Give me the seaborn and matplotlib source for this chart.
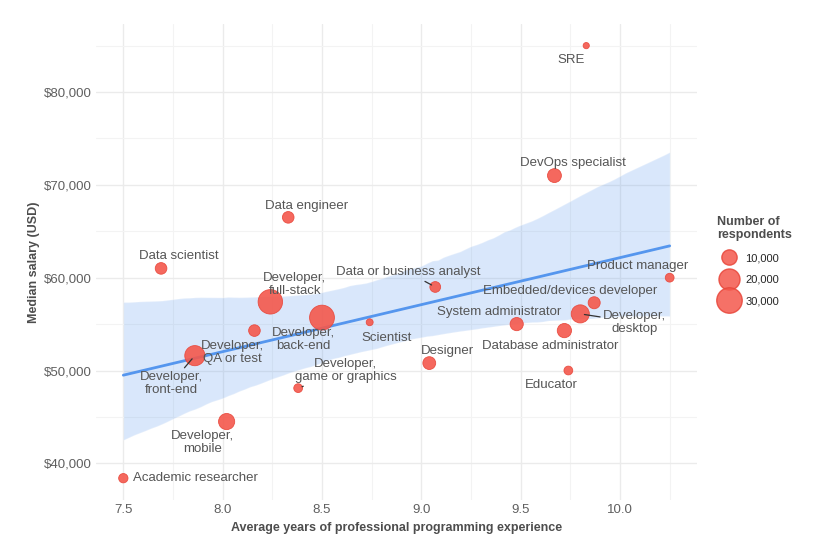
import seaborn as sns
import pandas as pd
import matplotlib.pyplot as plt
from matplotlib.lines import Line2D
from matplotlib.ticker import FuncFormatter, MultipleLocator

roles = ['SRE', 'DevOps specialist', 'Data engineer', 'Data scientist',
         'Developer,\nfull-stack', 'Developer,\nback-end', 'Developer,\nQA or test',
         'Developer,\nfront-end', 'Scientist', 'Data or business analyst',
         'System administrator', 'Database administrator', 'Developer,\ndesktop',
         'Embedded/devices developer', 'Product manager', 'Designer', 'Educator',
         'Developer,\ngame or graphics', 'Developer,\nmobile', 'Academic researcher']
years = [9.83, 9.67, 8.33, 7.69, 8.24, 8.50, 8.16, 7.86, 8.74, 9.07,
         9.48, 9.72, 9.80, 9.87, 10.25, 9.04, 9.74, 8.38, 8.02, 7.50]
salary = [85000, 71000, 66500, 61000, 57400, 55700, 54300, 51600, 55200, 59000,
          55000, 54300, 56100, 57300, 60000, 50800, 50000, 48100, 44500, 38400]
respondents = [2000, 10000, 7000, 7000, 31000, 32000, 7000, 21000, 2500, 6000,
               9000, 10500, 17000, 7500, 4000, 8500, 4000, 4000, 13500, 4500]

# where each label sits (data coords), and whether it gets a leader segment
label_pos = {
    'SRE': (9.755, 83400, False),
    'DevOps specialist': (9.765, 72350, False),
    'Data engineer': (8.423, 67700, False),
    'Data scientist': (7.78, 62330, False),
    'Developer,\nfull-stack': (8.363, 59300, False),
    'Developer,\nback-end': (8.408, 53350, False),
    'Developer,\nQA or test': (8.049, 51950, False),
    'Developer,\nfront-end': (7.74, 48600, True),
    'Scientist': (8.827, 53480, False),
    'Data or business analyst': (8.932, 60600, True),
    'System administrator': (9.39, 56290, False),
    'Database administrator': (9.65, 52620, False),
    'Developer,\ndesktop': (10.075, 55200, True),
    'Embedded/devices developer': (9.75, 58550, False),
    'Product manager': (10.09, 61250, False),
    'Designer': (9.13, 52080, False),
    'Educator': (9.656, 48420, False),
    'Developer,\ngame or graphics': (8.618, 50000, True),
    'Developer,\nmobile': (7.90, 42250, False),
}

df = pd.DataFrame({'role': roles, 'years': years, 'salary': salary, 'n': respondents})

sns.set_theme(style='whitegrid')
plt.rcParams['font.family'] = ['Liberation Sans', 'DejaVu Sans']

fig = plt.figure(figsize=(8.32, 5.48), dpi=100)
ax = fig.add_axes([96 / 832, 1 - 500 / 548, 601 / 832, 476 / 548])

point_red = '#f4584c'
line_blue = '#5596ee'

sns.regplot(data=df, x='years', y='salary', scatter=False, ci=95, truncate=True,
            color=line_blue, line_kws={'lw': 2}, ax=ax)
for c in ax.collections:
    c.set_alpha(0.22)

sns.scatterplot(data=df, x='years', y='salary', size='n', sizes=(0, 350),
                size_norm=(0, 35000), color=point_red, alpha=0.9,
                edgecolor='#e8463a', linewidth=0.6, legend=False, ax=ax, zorder=3)

label_color = '#555555'
for r, x, y in zip(roles, years, salary):
    if r == 'Academic researcher':
        ax.text(x + 0.05, y, r, ha='left', va='center', fontsize=9.5,
                color=label_color)
        continue
    lx, ly, seg = label_pos[r]
    if seg:
        ax.annotate(r, xy=(x, y), xytext=(lx, ly), ha='center', va='center',
                    fontsize=9.5, color=label_color, linespacing=1.1,
                    arrowprops=dict(arrowstyle='-', color='#333333', lw=0.9,
                                    shrinkA=0, shrinkB=3))
    else:
        ax.text(lx, ly, r, ha='center', va='center', fontsize=9.5,
                color=label_color, linespacing=1.1)

ax.set_xlim(7.3625, 10.3875)
ax.set_ylim(36050, 87330)
ax.xaxis.set_major_locator(MultipleLocator(0.5))
ax.xaxis.set_minor_locator(MultipleLocator(0.25))
ax.yaxis.set_major_locator(MultipleLocator(10000))
ax.yaxis.set_minor_locator(MultipleLocator(5000))
ax.xaxis.set_major_formatter(FuncFormatter(lambda v, p: f'{v:.1f}'))
ax.yaxis.set_major_formatter(FuncFormatter(lambda v, p: f'${v:,.0f}'))
ax.grid(which='major', color='#ebebeb', lw=1.0)
ax.grid(which='minor', color='#f3f3f3', lw=0.8)
ax.set_axisbelow(True)
for s in ax.spines.values():
    s.set_visible(False)
ax.tick_params(which='both', length=0, labelsize=9.5, labelcolor='#5f5f5f', pad=3)

ax.set_xlabel('Average years of professional programming experience',
              fontsize=9, fontweight='bold', color='#4d4d4d', labelpad=4)
ax.set_ylabel('Median salary (USD)', fontsize=9, fontweight='bold',
              color='#4d4d4d', labelpad=3)

handles = [Line2D([], [], marker='o', ls='', markersize=(v / 100) ** 0.5 + 1,
                  markerfacecolor=point_red, markeredgecolor='#e8463a', alpha=0.85)
           for v in [10000, 20000, 30000]]
leg = fig.legend(handles, ['10,000', '20,000', '30,000'],
                 title='Number of\nrespondents', loc='upper left',
                 bbox_to_anchor=(713 / 832, 1 - 212 / 548), frameon=False,
                 fontsize=8, labelspacing=1.05, handletextpad=0.5,
                 alignment='left', borderaxespad=0)
leg.get_title().set_fontweight('bold')
leg.get_title().set_fontsize(9)
leg.get_title().set_color('#4d4d4d')
leg.get_title().set_linespacing(1.1)

fig.savefig('out.png', dpi=100)
